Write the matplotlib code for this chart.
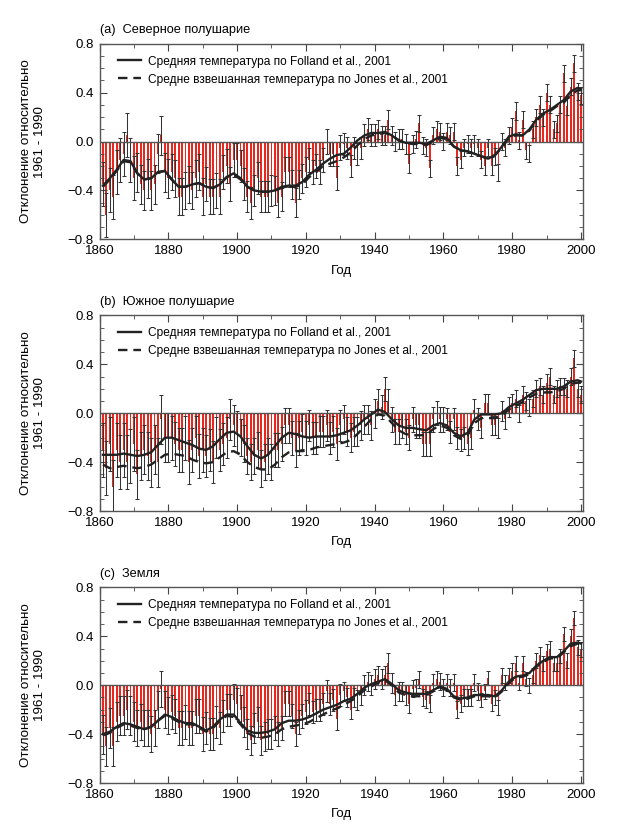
import numpy as np
import matplotlib
matplotlib.use("Agg")
import matplotlib.pyplot as plt
from matplotlib.ticker import MultipleLocator, FuncFormatter

plt.rcParams['font.family'] = ['Liberation Sans', 'DejaVu Sans']

# annual anomalies, 1861-2000
years = np.arange(1861, 2001)

nh_annual = [
    -0.35, -0.60, -0.40, -0.45, -0.25, -0.15, -0.10, 0.05, -0.15, -0.30,
    -0.25, -0.35, -0.40, -0.30, -0.40, -0.35, -0.10, 0.05, -0.25, -0.30,
    -0.25, -0.30, -0.45, -0.45, -0.40, -0.35, -0.40, -0.30, -0.25, -0.45,
    -0.35, -0.45, -0.45, -0.40, -0.45, -0.25, -0.20, -0.35, -0.15, -0.15,
    -0.20, -0.35, -0.45, -0.50, -0.40, -0.30, -0.45, -0.45, -0.45, -0.40,
    -0.40, -0.50, -0.45, -0.25, -0.25, -0.35, -0.50, -0.35, -0.30, -0.25,
    -0.15, -0.25, -0.20, -0.25, -0.15, 0.00, -0.10, -0.10, -0.30, -0.05,
    -0.02, -0.05, -0.20, -0.05, -0.10, -0.05, 0.05, 0.10, 0.05, 0.05,
    0.10, 0.05, 0.05, 0.18, 0.05, 0.00, 0.02, 0.02, -0.02, -0.18,
    -0.02, 0.02, 0.15, -0.03, -0.05, -0.22, 0.05, 0.10, 0.08, 0.00,
    0.08, 0.05, 0.08, -0.20, -0.15, -0.05, -0.02, -0.05, -0.02, -0.05,
    -0.15, -0.20, -0.05, -0.20, -0.12, -0.25, 0.00, -0.05, 0.05, 0.12,
    0.25, 0.01, 0.18, -0.07, -0.10, 0.10, 0.20, 0.30, 0.20, 0.40,
    0.30, 0.10, 0.15, 0.30, 0.56, 0.29, 0.45, 0.64, 0.41, 0.38,
]

sh_annual = [
    -0.30, -0.45, -0.25, -0.60, -0.30, -0.40, -0.30, -0.40, -0.35, -0.25,
    -0.50, -0.35, -0.30, -0.35, -0.40, -0.30, -0.40, -0.05, -0.20, -0.20,
    -0.20, -0.25, -0.30, -0.30, -0.20, -0.40, -0.30, -0.20, -0.35, -0.30,
    -0.35, -0.30, -0.40, -0.20, -0.30, -0.25, -0.20, -0.05, -0.10, -0.15,
    -0.20, -0.25, -0.35, -0.40, -0.35, -0.30, -0.45, -0.40, -0.35, -0.40,
    -0.30, -0.30, -0.25, -0.10, -0.10, -0.20, -0.30, -0.20, -0.15, -0.20,
    -0.10, -0.20, -0.20, -0.15, -0.15, -0.10, -0.20, -0.15, -0.25, -0.10,
    -0.05, -0.15, -0.20, -0.15, -0.15, -0.10, -0.05, -0.05, -0.10, 0.00,
    0.10, 0.05, 0.20, 0.10, -0.05, -0.15, -0.15, -0.10, -0.15, -0.20,
    -0.05, -0.10, -0.10, -0.25, -0.25, -0.25, -0.05, 0.00, -0.05, -0.05,
    -0.05, -0.15, -0.05, -0.20, -0.22, -0.20, -0.25, -0.20, 0.03, -0.05,
    -0.12, 0.08, 0.08, -0.10, -0.10, -0.12, 0.02, -0.05, 0.05, 0.08,
    0.12, 0.00, 0.15, 0.10, 0.05, 0.12, 0.20, 0.22, 0.15, 0.25,
    0.30, 0.15, 0.20, 0.22, 0.22, 0.20, 0.30, 0.45, 0.20, 0.15,
]

gl_annual = [
    -0.40, -0.50, -0.35, -0.50, -0.30, -0.25, -0.25, -0.20, -0.25, -0.30,
    -0.35, -0.30, -0.35, -0.35, -0.40, -0.35, -0.20, -0.03, -0.20, -0.25,
    -0.22, -0.25, -0.35, -0.35, -0.30, -0.35, -0.35, -0.25, -0.25, -0.40,
    -0.35, -0.40, -0.40, -0.30, -0.35, -0.25, -0.20, -0.20, -0.12, -0.15,
    -0.20, -0.30, -0.40, -0.45, -0.35, -0.30, -0.45, -0.42, -0.40, -0.40,
    -0.35, -0.40, -0.35, -0.15, -0.15, -0.25, -0.40, -0.30, -0.25, -0.22,
    -0.15, -0.22, -0.20, -0.20, -0.15, -0.05, -0.15, -0.12, -0.28, -0.08,
    -0.05, -0.10, -0.20, -0.10, -0.12, -0.08, 0.00, 0.03, 0.00, 0.05,
    0.08, 0.05, 0.08, 0.18, 0.02, -0.08, -0.05, -0.05, -0.08, -0.15,
    -0.03, -0.02, 0.05, -0.10, -0.12, -0.15, 0.02, 0.05, 0.03, -0.02,
    0.02, -0.02, 0.02, -0.20, -0.15, -0.10, -0.10, -0.10, 0.02, -0.05,
    -0.12, -0.05, 0.06, -0.15, -0.10, -0.18, 0.08, 0.02, 0.08, 0.12,
    0.18, 0.02, 0.18, 0.05, 0.00, 0.08, 0.20, 0.25, 0.18, 0.28,
    0.30, 0.18, 0.18, 0.24, 0.42, 0.20, 0.40, 0.55, 0.31, 0.29,
]

# uncertainty half-width for each decade (1861-70 ... 1991-2000)
nh_err_decade = [0.18, 0.16, 0.15, 0.14, 0.13, 0.12, 0.10, 0.09, 0.08, 0.07, 0.07, 0.07, 0.07, 0.07]
sh_err_decade = [0.22, 0.20, 0.18, 0.17, 0.15, 0.14, 0.13, 0.12, 0.10, 0.10, 0.09, 0.08, 0.07, 0.07]
gl_err_decade = [0.16, 0.15, 0.14, 0.13, 0.12, 0.10, 0.09, 0.08, 0.08, 0.07, 0.07, 0.06, 0.06, 0.06]

# smoothed curves read every second year (1861, 1863, ... 1999) and 2000
smooth_years = list(range(1861, 2000, 2)) + [2000]

nh_folland = [
    -0.36, -0.30, -0.23, -0.15, -0.16, -0.26, -0.31, -0.30, -0.25, -0.24,
    -0.31, -0.37, -0.37, -0.35, -0.34, -0.37, -0.38, -0.35, -0.29, -0.26,
    -0.30, -0.37, -0.40, -0.41, -0.41, -0.40, -0.37, -0.36, -0.36, -0.33,
    -0.27, -0.23, -0.18, -0.14, -0.11, -0.10, -0.05, 0.01, 0.05, 0.07,
    0.07, 0.08, 0.05, 0.01, -0.01, -0.01, -0.01, -0.02, 0.01, 0.04,
    0.03, -0.04, -0.07, -0.08, -0.10, -0.12, -0.14, -0.11, -0.04, 0.04,
    0.06, 0.05, 0.10, 0.18, 0.23, 0.26, 0.30, 0.34, 0.41, 0.44, 0.43,
]
nh_jones = [
    -0.37, -0.31, -0.24, -0.16, -0.17, -0.26, -0.31, -0.30, -0.25, -0.24,
    -0.31, -0.37, -0.37, -0.35, -0.34, -0.37, -0.38, -0.35, -0.29, -0.27,
    -0.31, -0.37, -0.40, -0.41, -0.41, -0.40, -0.38, -0.37, -0.37, -0.35,
    -0.29, -0.25, -0.20, -0.18, -0.16, -0.13, -0.09, -0.03, 0.02, 0.05,
    0.06, 0.07, 0.05, 0.01, -0.01, -0.02, -0.02, -0.03, 0.00, 0.03,
    0.02, -0.04, -0.07, -0.08, -0.10, -0.12, -0.14, -0.11, -0.05, 0.03,
    0.05, 0.05, 0.09, 0.17, 0.22, 0.25, 0.29, 0.32, 0.38, 0.42, 0.42,
]

sh_folland = [
    -0.34, -0.34, -0.34, -0.33, -0.34, -0.35, -0.34, -0.32, -0.26, -0.20,
    -0.20, -0.22, -0.24, -0.26, -0.29, -0.30, -0.27, -0.21, -0.16, -0.15,
    -0.19, -0.27, -0.34, -0.37, -0.34, -0.27, -0.20, -0.16, -0.17, -0.19,
    -0.20, -0.19, -0.19, -0.19, -0.18, -0.16, -0.14, -0.10, -0.05, -0.01,
    0.03, 0.01, -0.05, -0.10, -0.12, -0.12, -0.13, -0.14, -0.10, -0.08,
    -0.10, -0.16, -0.19, -0.16, -0.05, -0.01, -0.01, -0.01, 0.00, 0.05,
    0.08, 0.11, 0.15, 0.19, 0.20, 0.20, 0.20, 0.22, 0.26, 0.27, 0.26,
]
sh_jones = [
    -0.42, -0.45, -0.44, -0.43, -0.44, -0.45, -0.44, -0.42, -0.38, -0.34,
    -0.33, -0.34, -0.35, -0.38, -0.40, -0.41, -0.40, -0.36, -0.32, -0.31,
    -0.34, -0.40, -0.44, -0.46, -0.46, -0.42, -0.36, -0.32, -0.31, -0.31,
    -0.30, -0.28, -0.27, -0.26, -0.25, -0.24, -0.22, -0.17, -0.11, -0.05,
    -0.01, -0.02, -0.08, -0.14, -0.17, -0.18, -0.18, -0.18, -0.13, -0.10,
    -0.12, -0.18, -0.21, -0.18, -0.08, -0.04, -0.04, -0.04, -0.02, 0.03,
    0.06, 0.09, 0.13, 0.16, 0.17, 0.17, 0.18, 0.20, 0.24, 0.25, 0.25,
]

gl_folland = [
    -0.40, -0.38, -0.34, -0.31, -0.32, -0.34, -0.36, -0.34, -0.29, -0.24,
    -0.26, -0.29, -0.31, -0.31, -0.34, -0.37, -0.34, -0.28, -0.24, -0.24,
    -0.31, -0.37, -0.39, -0.39, -0.38, -0.36, -0.31, -0.29, -0.29, -0.28,
    -0.26, -0.23, -0.20, -0.18, -0.16, -0.13, -0.11, -0.07, -0.02, 0.01,
    0.03, 0.05, 0.01, -0.04, -0.06, -0.07, -0.07, -0.07, -0.04, -0.01,
    -0.03, -0.09, -0.11, -0.10, -0.08, -0.08, -0.08, -0.09, -0.04, 0.03,
    0.07, 0.08, 0.10, 0.16, 0.20, 0.23, 0.23, 0.28, 0.34, 0.35, 0.34,
]
gl_jones = [
    -0.41, -0.39, -0.35, -0.32, -0.33, -0.35, -0.36, -0.34, -0.29, -0.25,
    -0.27, -0.30, -0.32, -0.32, -0.35, -0.38, -0.35, -0.29, -0.25, -0.26,
    -0.32, -0.39, -0.42, -0.43, -0.42, -0.40, -0.36, -0.34, -0.33, -0.32,
    -0.30, -0.27, -0.24, -0.21, -0.19, -0.16, -0.13, -0.09, -0.04, -0.01,
    0.02, 0.04, 0.00, -0.06, -0.08, -0.09, -0.09, -0.08, -0.05, -0.02,
    -0.04, -0.10, -0.12, -0.11, -0.09, -0.09, -0.09, -0.10, -0.05, 0.02,
    0.06, 0.07, 0.09, 0.15, 0.19, 0.22, 0.22, 0.27, 0.32, 0.34, 0.34,
]

panel_titles = ['(a)  Северное полушарие', '(b)  Южное полушарие', '(c)  Земля']
label_folland = 'Средняя температура по Folland et al., 2001'
label_jones = 'Средне взвешанная температура по Jones et al., 2001'

panels = [
    (nh_annual, nh_err_decade, nh_folland, nh_jones),
    (sh_annual, sh_err_decade, sh_folland, sh_jones),
    (gl_annual, gl_err_decade, gl_folland, gl_jones),
]
bottoms = [0.7099, 0.3806, 0.0509]

fig = plt.figure(figsize=(6.2, 8.25), dpi=100)

for i, (annual, err_dec, folland, jones) in enumerate(panels):
    ax = fig.add_axes([0.1605, bottoms[i], 0.780, 0.2370])
    err = np.repeat(err_dec, 10)

    ax.bar(years, annual, width=0.55, color='#e8281e', zorder=1)
    ax.errorbar(years, annual, yerr=err, fmt='none', ecolor='#333333',
                elinewidth=0.75, capsize=1.4, capthick=0.75, zorder=2)
    ax.axhline(0, color='#555555', lw=1.0, zorder=3)
    ax.plot(smooth_years, jones, color='#222222', lw=1.7, ls=(0, (4, 2.5)),
            zorder=4, label=label_jones)
    ax.plot(smooth_years, folland, color='#222222', lw=1.7, zorder=5,
            label=label_folland)

    ax.set_xlim(1860, 2000.6)
    ax.set_ylim(-0.8, 0.8)
    ax.xaxis.set_major_locator(MultipleLocator(20))
    ax.xaxis.set_minor_locator(MultipleLocator(10))
    ax.yaxis.set_major_locator(MultipleLocator(0.4))
    ax.yaxis.set_minor_locator(MultipleLocator(0.1))
    ax.yaxis.set_major_formatter(FuncFormatter(lambda v, p: f'{v:.1f}'.replace('-', '\u2212')))
    ax.tick_params(which='both', direction='in', top=True, right=True,
                   color='#444444', labelsize=9.5)
    ax.tick_params(which='major', length=5, pad=4)
    ax.tick_params(which='minor', length=3)
    for s in ax.spines.values():
        s.set_color('#555555')
        s.set_linewidth(1.0)

    handles, labels = ax.get_legend_handles_labels()
    ax.legend(handles[::-1], labels[::-1], loc='upper left',
              bbox_to_anchor=(0.038, 0.94), frameon=False, fontsize=8.6,
              handlelength=1.9, handletextpad=0.6, labelspacing=0.5,
              borderaxespad=0, borderpad=0)

    ax.text(0.0, 1.07, panel_titles[i], transform=ax.transAxes,
            ha='left', va='center', fontsize=9.2)
    ax.text(-0.1375, 0.5, 'Отклонение относительно\n1961 - 1990',
            transform=ax.transAxes, rotation=90, ha='center', va='center',
            multialignment='center', fontsize=9.6)
    ax.text(0.5, -0.16, 'Год', transform=ax.transAxes,
            ha='center', va='center', fontsize=9.5)

fig.savefig('out.png', dpi=100)
